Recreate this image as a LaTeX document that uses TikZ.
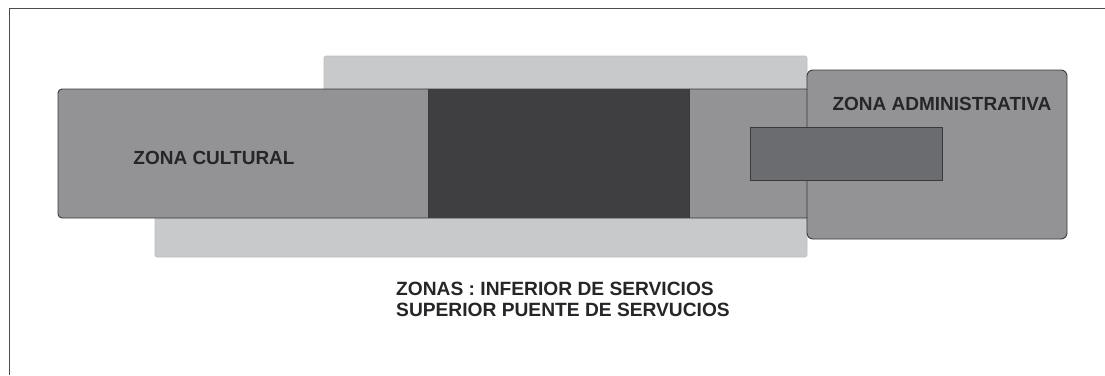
\documentclass[tikz,border=0pt]{standalone}
\usepackage{fontspec}
\setmainfont{Liberation Sans}
\definecolor{zgris}{HTML}{939396}
\definecolor{zoscuro}{HTML}{3F3F42}
\definecolor{zclaro}{HTML}{C8C9CB}
\definecolor{zmedio}{HTML}{6B6C70}
\definecolor{zborde}{HTML}{3A3A3C}
\definecolor{ztexto}{HTML}{262628}

\begin{document}
\begin{tikzpicture}[x=1pt,y=-1pt]
\tikzstyle{marco}=[draw=black!70,line width=0.8pt]
\tikzstyle{servicio}=[draw=black!25,fill=zclaro,line width=0.6pt,rounded corners=2pt]
\tikzstyle{zona}=[draw=zborde,fill=zgris,line width=0.9pt,rounded corners=4pt]
\tikzstyle{bloque}=[draw=zborde,line width=0.9pt]
\tikzstyle{rotulo}=[text=ztexto,font=\bfseries\fontsize{19}{21}\selectfont,inner sep=0pt]
\useasboundingbox (0,0) rectangle (1105,375);
\fill[white] (0,0) rectangle (1105,375);
\draw[marco] (9,375) -- (9,8) -- (1105,8);
% zonas de servicios (superior e inferior)
\draw[servicio] (324,56) rectangle (807,110);
\draw[servicio] (155,200) rectangle (807,257);
% zona cultural y bloque central
\draw[zona] (58,89) rectangle (810,218);
\fill[zoscuro] (428,89) rectangle (689,218);
\draw[bloque] (428,89) -- (428,218) (689,89) -- (689,218);
% zona administrativa
\draw[zona,rounded corners=6pt] (807,70) rectangle (1067,239);
\draw[bloque,fill=zmedio] (750,127) rectangle (942,180);
\node[rotulo] (cultural) at (214,158) {ZONA CULTURAL};
\node[rotulo] (admin) at (942,104) {ZONA ADMINISTRATIVA};
\node[rotulo,anchor=north west,align=left,font=\bfseries\fontsize{19.2}{21}\selectfont] (zonas) at (396,282)
  {ZONAS : INFERIOR DE SERVICIOS\\SUPERIOR PUENTE DE SERVUCIOS};
\end{tikzpicture}
\end{document}
